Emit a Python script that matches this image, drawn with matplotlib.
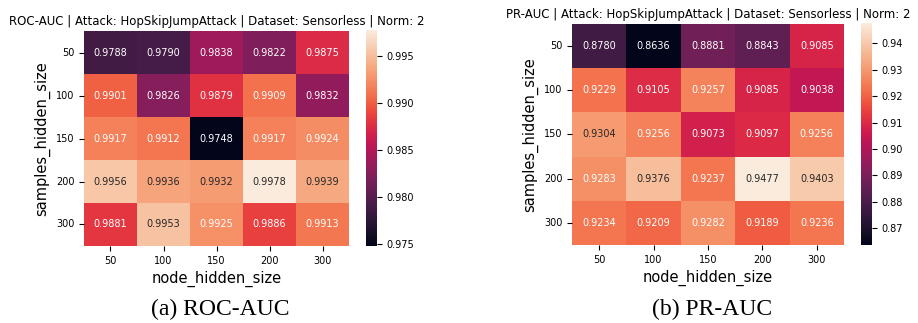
import numpy as np
import matplotlib
matplotlib.use("Agg")
import matplotlib.pyplot as plt
import seaborn as sns

sizes = ["50", "100", "150", "200", "300"]

roc_auc = [
    [0.9788, 0.9790, 0.9838, 0.9822, 0.9875],
    [0.9901, 0.9826, 0.9879, 0.9909, 0.9832],
    [0.9917, 0.9912, 0.9748, 0.9917, 0.9924],
    [0.9956, 0.9936, 0.9932, 0.9978, 0.9939],
    [0.9881, 0.9953, 0.9925, 0.9886, 0.9913],
]

pr_auc = [
    [0.8780, 0.8636, 0.8881, 0.8843, 0.9085],
    [0.9229, 0.9105, 0.9257, 0.9085, 0.9038],
    [0.9304, 0.9256, 0.9073, 0.9097, 0.9256],
    [0.9283, 0.9376, 0.9237, 0.9477, 0.9403],
    [0.9234, 0.9209, 0.9282, 0.9189, 0.9236],
]

titles = [
    "ROC-AUC | Attack: HopSkipJumpAttack | Dataset: Sensorless | Norm: 2",
    "PR-AUC | Attack: HopSkipJumpAttack | Dataset: Sensorless | Norm: 2",
]
captions = ["(a) ROC-AUC", "(b) PR-AUC"]

fig = plt.figure(figsize=(9.18, 3.23), dpi=100)

# [heatmap axes, colorbar axes] in figure fractions
layout = [
    ([0.0915, 0.2384, 0.2887, 0.6656], [0.3987, 0.2384, 0.012, 0.6687], 0.240),
    ([0.6231, 0.2415, 0.2963, 0.6842], [0.9379, 0.2415, 0.012, 0.6873], 0.776),
]

for data, title, cap, (hm_pos, cb_pos, cap_x) in zip([roc_auc, pr_auc], titles, captions, layout):
    arr = np.array(data)
    ax = fig.add_axes(hm_pos)
    cax = fig.add_axes(cb_pos)
    sns.heatmap(arr, ax=ax, cbar_ax=cax, cmap="rocket", annot=True, fmt=".4f",
                annot_kws={"fontsize": 7}, xticklabels=sizes, yticklabels=sizes)
    # text colour: dark only on the lightest cells
    norm = (arr - arr.min()) / (arr.max() - arr.min())
    for t, v in zip(ax.texts, norm.ravel()):
        t.set_color(".15" if v > 0.785 else "w")
    ax.set_title(title, fontsize=8.5, pad=4)
    ax.set_xlabel("node_hidden_size", fontsize=10.5)
    ax.set_ylabel("samples_hidden_size", fontsize=10.5)
    ax.tick_params(labelsize=7)
    ax.set_yticklabels(sizes, rotation=0)
    cax.tick_params(labelsize=7)
    fig.text(cap_x, 0.025, cap, ha="center", fontsize=17,
             family=["Liberation Serif", "DejaVu Serif"])

fig.savefig("out.png", dpi=100)
